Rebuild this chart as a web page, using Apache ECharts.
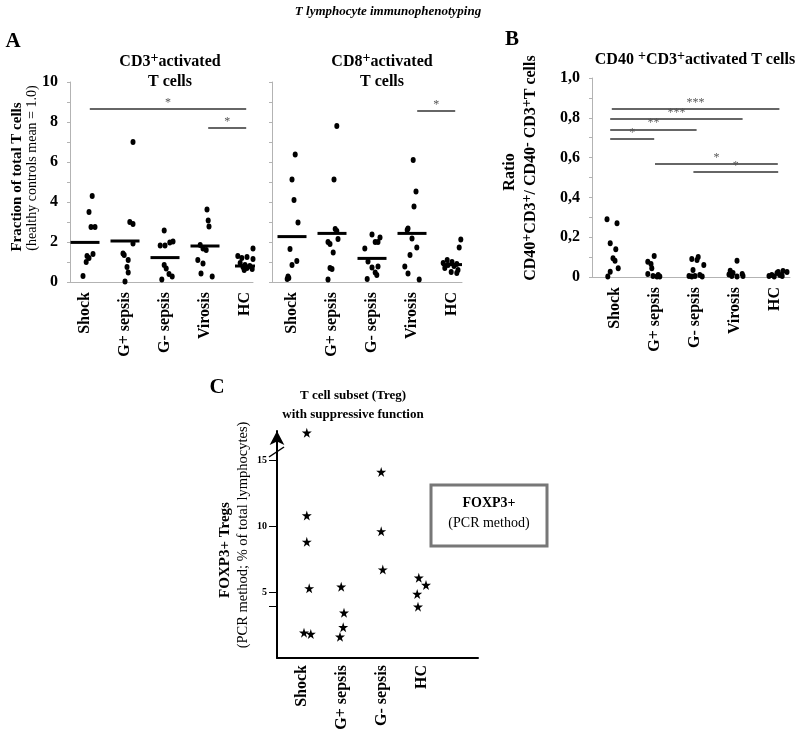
<!DOCTYPE html>
<html><head><meta charset="utf-8">
<script src="https://cdn.jsdelivr.net/npm/echarts@6/dist/echarts.min.js"></script>
<style>html,body{margin:0;padding:0;background:#fff}#c{width:798px;height:731px}</style>
</head><body><div id="c"></div>
<script>
// ---------- DATA ----------
const categories = ['Shock', 'G+ sepsis', 'G- sepsis', 'Virosis', 'HC'];
const categoriesC = ['Shock', 'G+ sepsis', 'G- sepsis', 'HC'];
const tickLabelsB = ['0', '0,2', '0,4', '0,6', '0,8', '1,0'];
const tickLabelsC = [5, 10, 15];

// Panel A left: CD3+ activated T cells  [x (category index incl. jitter), value]
const cd3Shock = [[0.18,4.3],[0.1,3.5],[0.15,2.75],[0.25,2.75],[0.2,1.4],[0.05,1.3],[0.1,1.2],[0.03,1.0],[-0.05,0.3]];
const cd3Gpos = [[1.2,7.0],[1.12,3.0],[1.2,2.9],[1.2,1.93],[0.95,1.43],[0.98,1.35],[1.08,1.1],[1.05,0.75],[1.08,0.47],[1.0,0.02]];
const cd3Gneg = [[1.98,2.57],[2.2,2.02],[2.12,1.97],[1.88,1.82],[2.0,1.82],[1.98,0.85],[2.03,0.68],[2.1,0.4],[2.18,0.27],[1.92,0.13]];
const cd3Virosis = [[3.05,3.63],[3.08,3.07],[3.1,2.77],[2.88,1.85],[2.95,1.68],[3.03,1.6],[2.82,1.1],[2.95,0.93],[2.9,0.43],[3.18,0.27]];
const cd3HC = [[4.2,1.68],[3.82,1.3],[4.05,1.25],[3.92,1.2],[4.2,1.15],[3.88,0.95],[4.0,0.85],[4.12,0.8],[3.95,0.75],[4.05,0.7],[4.18,0.65],[3.98,0.6]];
const cd3Means = [1.98, 2.05, 1.22, 1.8, 0.8];
const cd3Sig = [[0.12, 4.03, 8.65, '*'], [3.08, 4.03, 7.73, '*']];

// Panel A right: CD8+ activated T cells
const cd8Shock = [[0.08,6.38],[0,5.13],[0.05,4.1],[0.15,2.98],[-0.05,1.65],[0.12,1.05],[0,0.85],[-0.1,0.27],[-0.08,0.2],[-0.12,0.15]];
const cd8Gpos = [[1.12,7.8],[1.05,5.13],[1.08,2.65],[1.12,2.55],[1.15,2.15],[0.9,2.0],[0.95,1.9],[1.03,1.47],[0.95,0.7],[1.0,0.65],[0.9,0.13]];
const cd8Gneg = [[2.0,2.38],[2.2,2.22],[2.08,2.0],[2.15,2.0],[1.82,1.68],[1.9,1.02],[2.15,0.77],[2.0,0.73],[2.08,0.47],[2.12,0.35],[1.88,0.15]];
const cd8Virosis = [[3.03,6.1],[3.1,4.52],[3.05,3.77],[2.9,2.68],[2.88,2.6],[3.0,2.18],[3.12,1.73],[2.95,1.35],[2.82,0.77],[2.9,0.43],[3.18,0.13]];
const cd8HC = [[4.22,2.13],[4.18,1.73],[3.88,1.1],[4.0,1.0],[3.78,0.95],[4.12,0.9],[3.9,0.85],[4.05,0.8],[3.82,0.7],[4.15,0.6],[3.98,0.5],[4.12,0.45]];
const cd8Means = [2.27, 2.43, 1.18, 2.43, 0.87];
const cd8Sig = [[3.13, 4.08, 8.57, '*']];

// Panel B: CD40+CD3+ / CD40- CD3+ ratio
const ratioShock = [[-0.2,0.29],[0.05,0.27],[-0.12,0.17],[0.02,0.14],[-0.05,0.094],[0,0.082],[0.08,0.044],[-0.12,0.027],[-0.18,0.003]];
const ratioGpos = [[0.98,0.105],[0.82,0.077],[0.9,0.065],[0.92,0.044],[0.82,0.015],[0.95,0.005],[1.05,0.002],[1.12,0.002],[1.08,0.01]];
const ratioGneg = [[1.92,0.09],[2.05,0.085],[2.08,0.1],[2.22,0.06],[1.95,0.035],[1.85,0.005],[2.12,0.01],[2.18,0.002],[2.0,0.005],[1.92,0.002]];
const ratioVirosis = [[3.05,0.082],[2.88,0.032],[2.95,0.02],[3.18,0.015],[3.2,0.005],[2.92,0.005],[3.05,0.002],[2.85,0.012]];
const ratioHC = [[4.2,0.03],[4.3,0.025],[4.05,0.02],[3.92,0.01],[3.85,0.005],[4.12,0.01],[3.98,0.002],[4.18,0.005],[4.08,0.025]];
const ratioSig = [[-0.08,4.11,0.844,'***'],[-0.12,3.19,0.795,'***'],[-0.12,2.04,0.742,'**'],[-0.12,0.98,0.693,'*'],[1.0,4.07,0.571,'*'],[1.96,4.08,0.529,'*']];

// Panel C: FOXP3+ Tregs (PCR method)
const foxShock = [[0.12,17.07],[0.12,10.8],[0.12,8.8],[0.18,5.28],[0.05,1.92],[0.22,1.82]];
const foxGpos = [[0.98,5.4],[1.05,3.43],[1.03,2.33],[0.95,1.61]];
const foxGneg = [[1.98,14.1],[1.98,9.6],[2.02,6.7]];
const foxHC = [[2.92,6.08],[3.1,5.53],[2.88,4.85],[2.9,3.89]];
const foxTicks = [3.9, 5, 10, 15];

// ---------- STYLE ----------
const FONT = '"Liberation Serif", "Times New Roman", serif';
const GRAY = '#b3b3b3';
const STAR = 'path://M50,0 L61,35 L98,35 L68,57 L79,91 L50,70 L21,91 L32,57 L2,35 L39,35 Z';

function catAxis(gridIndex, min, max, cats, color, width, fontSize, margin) {
  return {
    gridIndex, type: 'value', min, max, splitLine: {show: false},
    axisTick: {show: false},
    axisLine: {show: true, onZero: false, lineStyle: {color, width}},
    axisLabel: {
      customValues: cats.map((c, i) => i),
      formatter: v => cats[Math.round(v)],
      rotate: 90, margin, fontFamily: FONT, fontWeight: 'bold', fontSize, color: '#000'
    }
  };
}
function grayYAxis(gridIndex, max, interval, showLabel, formatter) {
  return {
    gridIndex, type: 'value', min: 0, max, interval, splitLine: {show: false},
    axisLine: {show: true, onZero: false, lineStyle: {color: GRAY, width: 1}},
    axisTick: {show: true, length: 3, lineStyle: {color: GRAY}},
    minorTick: {show: true, splitNumber: 2, length: 3, lineStyle: {color: GRAY}},
    axisLabel: {show: showLabel, formatter, margin: 12, fontFamily: FONT, fontWeight: 'bold', fontSize: 16, color: '#000'}
  };
}
function dots(idx, groups) {
  return {type: 'scatter', xAxisIndex: idx, yAxisIndex: idx, symbol: 'circle', symbolSize: [5, 6],
    itemStyle: {color: '#000', opacity: 1}, data: [].concat(...groups), z: 3};
}
function means(idx, arr) {
  return {type: 'scatter', xAxisIndex: idx, yAxisIndex: idx, symbol: 'rect',
    data: arr.map((m, i) => ({value: [i, m], symbolSize: i === 4 ? [20, 3] : [29, 3]})),
    itemStyle: {color: '#000', opacity: 1}, z: 4};
}
function sig(idx, list, fs) {
  return {type: 'scatter', xAxisIndex: idx, yAxisIndex: idx, data: [], silent: true,
    markLine: {
      silent: true, symbol: ['none', 'none'], animation: false,
      lineStyle: {color: '#333', width: 1.5, type: 'solid', opacity: 1},
      label: {show: true, position: 'middle', formatter: '{b}', color: '#555', fontSize: fs, fontFamily: FONT, distance: 0},
      emphasis: {disabled: true},
      data: list.map(s => [{coord: [s[0], s[2]], name: s[3]}, {coord: [s[1], s[2]]}])
    }};
}
const supRich = (size) => ({
  n: {fontFamily: FONT, fontWeight: 'bold', fontSize: size, lineHeight: size + 6, fill: '#000', color: '#000'},
  s: {fontFamily: FONT, fontWeight: 'bold', fontSize: size - 2, lineHeight: size - 2, verticalAlign: 'top', fill: '#000', color: '#000'}
});
function txt(x, y, text, o) {
  o = o || {};
  return {type: 'text', x, y, rotation: o.rot || 0, z: 10,
    style: {text, fontFamily: FONT, fontSize: o.size || 16, fontWeight: o.weight || 'bold',
      fontStyle: o.style || 'normal', fill: '#000', align: 'center', verticalAlign: 'middle',
      textAlign: 'center', textVerticalAlign: 'middle', rich: o.rich}};
}
const R = Math.PI / 2;

const chart = echarts.init(document.getElementById('c'), null, {renderer: 'canvas'});
chart.setOption({
  animation: false,
  backgroundColor: '#fff',
  grid: [
    {left: 70, top: 82, width: 183, height: 200, outerBoundsMode: 'none', containLabel: false},
    {left: 272, top: 82, width: 190, height: 200, outerBoundsMode: 'none', containLabel: false},
    {left: 592, top: 78, width: 198, height: 199, outerBoundsMode: 'none', containLabel: false},
    {left: 277, top: 431, width: 201, height: 227, outerBoundsMode: 'none', containLabel: false}
  ],
  xAxis: [
    catAxis(0, -0.375, 4.2, categories, GRAY, 1, 16, 10),
    catAxis(1, -0.5, 4.25, categories, GRAY, 1, 16, 10),
    catAxis(2, -0.575, 4.375, categories, GRAY, 1, 16, 10),
    catAxis(3, -0.625, 4.4, categoriesC, '#000', 2, 16, 7)
  ],
  yAxis: [
    grayYAxis(0, 10, 2, true),
    grayYAxis(1, 10, 2, false),
    grayYAxis(2, 1, 0.2, true, v => tickLabelsB[Math.round(v * 5)]),
    {
      gridIndex: 3, type: 'value', min: 0, max: 17.2, splitLine: {show: false},
      axisLine: {show: true, onZero: false, symbol: ['none', 'arrow'], symbolSize: [11, 14],
        lineStyle: {color: '#000', width: 2}},
      axisTick: {show: true, customValues: foxTicks, length: 8, lineStyle: {color: '#000', width: 1}},
      axisLabel: {customValues: tickLabelsC, margin: 10, fontFamily: FONT, fontWeight: 'bold', fontSize: 10, color: '#000'}
    }
  ],
  series: [
    dots(0, [cd3Shock, cd3Gpos, cd3Gneg, cd3Virosis, cd3HC]),
    means(0, cd3Means),
    sig(0, cd3Sig, 12),
    dots(1, [cd8Shock, cd8Gpos, cd8Gneg, cd8Virosis, cd8HC]),
    means(1, cd8Means),
    sig(1, cd8Sig, 12),
    dots(2, [ratioShock, ratioGpos, ratioGneg, ratioVirosis, ratioHC]),
    sig(2, ratioSig, 12),
    {type: 'scatter', xAxisIndex: 3, yAxisIndex: 3, symbol: STAR, symbolSize: 10,
      itemStyle: {color: '#000', opacity: 1}, data: [].concat(foxShock, foxGpos, foxGneg, foxHC)}
  ],
  graphic: {elements: [
    txt(388, 12, 'T lymphocyte immunophenotyping', {size: 13, style: 'italic'}),
    txt(13, 42, 'A', {size: 21}),
    txt(512, 40, 'B', {size: 21}),
    txt(217, 388, 'C', {size: 21}),
    txt(170, 62, '{n|CD3}{s|+}{n|activated}', {rich: supRich(16)}),
    txt(170, 82, 'T cells', {size: 16}),
    txt(382, 62, '{n|CD8}{s|+}{n|activated}', {rich: supRich(16)}),
    txt(382, 82, 'T cells', {size: 16}),
    txt(695, 60, '{n|CD40 }{s|+}{n|CD3}{s|+}{n|activated T cells}', {rich: supRich(16)}),
    txt(17, 177, 'Fraction of total T cells', {size: 15, rot: R}),
    txt(32, 168, '(healthy controls mean = 1.0)', {size: 14, weight: 'normal', rot: R}),
    txt(510, 172, 'Ratio', {size: 16, rot: R}),
    txt(531, 168, '{n|CD40}{s|+}{n|CD3}{s|+}{n|/ CD40}{s|-}{n| CD3}{s|+}{n|T cells}', {rot: R, rich: supRich(16)}),
    txt(353, 396, 'T cell subset (Treg)', {size: 13}),
    txt(353, 415, 'with suppressive function', {size: 13}),
    txt(225, 550, 'FOXP3+ Tregs', {size: 15, rot: R}),
    txt(243, 535, '(PCR method; % of total lymphocytes)', {size: 14.5, weight: 'normal', rot: R}),
    {type: 'rect', shape: {x: 431, y: 485, width: 116, height: 61}, z: 9,
      style: {fill: '#fff', stroke: '#777', lineWidth: 3}},
    txt(489, 503, 'FOXP3+', {size: 14}),
    txt(489, 523, '(PCR method)', {size: 14, weight: 'normal'}),
    {type: 'line', shape: {x1: 269, y1: 457, x2: 284, y2: 447}, z: 10,
      style: {stroke: '#000', lineWidth: 1.5}}
  ]}
});
</script></body></html>
